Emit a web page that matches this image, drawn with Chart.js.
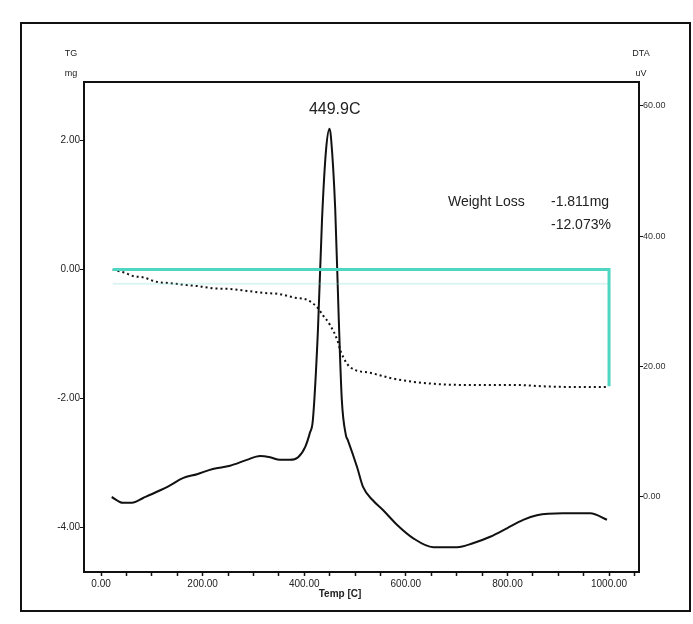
<!DOCTYPE html>
<html lang="en">
<head>
  <meta charset="UTF-8">
  <title>TG / DTA</title>
  <script src="https://cdn.jsdelivr.net/npm/chart.js"></script>
  <style>
    body { margin:0; background:#fff; }
    #wrap { position:relative; width:693px; height:624px; }
  </style>
</head>
<body>
  <div id="wrap"><canvas id="tgChart" width="693" height="624"></canvas></div>
  <script>
    // temperature [C] and TG [mg]
    const tgTemp = [23, 47, 63, 83, 110, 136, 169, 195, 220, 254, 287, 319, 352, 378, 406, 425, 437, 451, 465, 472, 490, 530, 569, 614, 673, 746, 819, 870, 923, 996];
    const tgMass = [0, -0.05, -0.10, -0.12, -0.19, -0.21, -0.24, -0.26, -0.29, -0.30, -0.33, -0.36, -0.38, -0.43, -0.47, -0.58, -0.71, -0.86, -1.09, -1.27, -1.51, -1.60, -1.68, -1.74, -1.78, -1.79, -1.79, -1.81, -1.82, -1.82];
    // temperature [C] and DTA [uV]
    const dtaTemp = [21, 43, 61, 83, 110, 136, 161, 189, 220, 254, 287, 313, 333, 352, 372, 388, 402, 411, 417, 427, 435, 443, 450, 453, 461, 468, 474, 482, 486, 504, 516, 535, 555, 583, 614, 654, 701, 732, 766, 799, 831, 858, 909, 963, 996];
    const dtaSignal = [0, -0.9, -0.9, -0.15, 0.8, 1.8, 2.9, 3.5, 4.3, 4.8, 5.7, 6.3, 6.1, 5.7, 5.7, 6.1, 7.7, 9.8, 11.8, 25.6, 42.5, 53.3, 56.5, 54.9, 44.2, 27.3, 14.9, 9.5, 8.7, 4.6, 1.5, -0.5, -2.0, -4.3, -6.3, -7.7, -7.7, -7.1, -6.1, -4.8, -3.5, -2.8, -2.5, -2.5, -3.5];
    // weight loss bracket, and the pale guide line under it
    const lossTemp = [23, 1000, 1000];
    const lossMass = [0, 0, -1.81];
    const guideTemp = [23, 1000];
    const guideMass = [-0.22, -0.22];
    const xTicks = [0, 200, 400, 600, 800, 1000];
    const tgTicks = [-4, -2, 0, 2];
    const dtaTicks = [0, 20, 40, 60];

    const pts = (xs, ys) => xs.map((x, i) => ({ x: x, y: ys[i] }));
    const tickFont = { family: 'Liberation Sans', size: 10 };

    const frames = {
      id: 'frames',
      afterDraw(chart) {
        const c = chart.ctx, a = chart.chartArea;
        c.save();
        c.strokeStyle = '#111';
        c.lineWidth = 2;
        c.strokeRect(21, 23, 669, 588);
        c.strokeRect(a.left, a.top, a.right - a.left, a.bottom - a.top);
        c.fillStyle = '#222';
        c.font = '9px Liberation Sans';
        c.textAlign = 'center';
        c.fillText('TG', 71, 56);
        c.fillText('mg', 71, 76);
        c.fillText('DTA', 641, 56);
        c.fillText('uV', 641, 76);
        c.font = 'bold 10px Liberation Sans';
        c.fillText('Temp [C]', 340, 597);
        const xs = chart.scales.x;
        c.font = '16px Liberation Sans';
        c.fillText('449.9C', xs.getPixelForValue(460), 114);
        c.textAlign = 'left';
        c.font = '14px Liberation Sans';
        c.fillText('Weight Loss', 448, 206);
        c.fillText('-1.811mg', 551, 206);
        c.fillText('-12.073%', 551, 229);
        c.restore();
      }
    };

    new Chart(document.getElementById('tgChart'), {
      type: 'line',
      data: {
        datasets: [
          { label: 'Guide', data: pts(guideTemp, guideMass), yAxisID: 'y', borderColor: 'rgba(120,215,200,0.25)', borderWidth: 2, pointRadius: 0, tension: 0 },
          { label: 'Loss', data: pts(lossTemp, lossMass), yAxisID: 'y', borderColor: '#4fd6c2', borderWidth: 3, pointRadius: 0, tension: 0 },
          { label: 'TG', data: pts(tgTemp, tgMass), yAxisID: 'y', borderColor: '#111', borderWidth: 2, borderDash: [2, 3], pointRadius: 0, cubicInterpolationMode: 'monotone' },
          { label: 'DTA', data: pts(dtaTemp, dtaSignal), yAxisID: 'y2', borderColor: '#111', borderWidth: 2, pointRadius: 0, cubicInterpolationMode: 'monotone' }
        ]
      },
      options: {
        responsive: false,
        animation: false,
        layout: { padding: { top: 82, left: 0, right: 0, bottom: 0 } },
        plugins: { legend: { display: false }, tooltip: { enabled: false } },
        scales: {
          x: {
            type: 'linear', min: -33.5, max: 1059,
            afterFit: s => { s.height = 52; },
            grid: { drawOnChartArea: false, tickLength: 4, color: '#111', tickWidth: 1.5 },
            border: { display: false },
            ticks: { stepSize: 50, includeBounds: false, autoSkip: false, maxRotation: 0, padding: 2, color: '#222', font: tickFont,
              callback: v => xTicks.includes(v) ? v.toFixed(2) : '' }
          },
          y: {
            position: 'left', min: -4.69, max: 2.91,
            afterFit: s => { s.width = 84; },
            grid: { drawOnChartArea: false, tickLength: 4, color: '#111' },
            border: { display: false },
            ticks: { stepSize: 2, includeBounds: false, padding: 0, color: '#222', font: tickFont,
              callback: v => tgTicks.includes(v) ? v.toFixed(2) : '' }
          },
          y2: {
            position: 'right', min: -11.51, max: 63.68,
            afterFit: s => { s.width = 54; },
            grid: { drawOnChartArea: false, tickLength: 4, color: '#111' },
            border: { display: false },
            ticks: { stepSize: 20, includeBounds: false, padding: 0, color: '#333', font: { family: 'Liberation Sans', size: 9 },
              callback: v => dtaTicks.includes(v) ? v.toFixed(2) : '' }
          }
        }
      },
      plugins: [frames]
    });
  </script>
</body>
</html>
